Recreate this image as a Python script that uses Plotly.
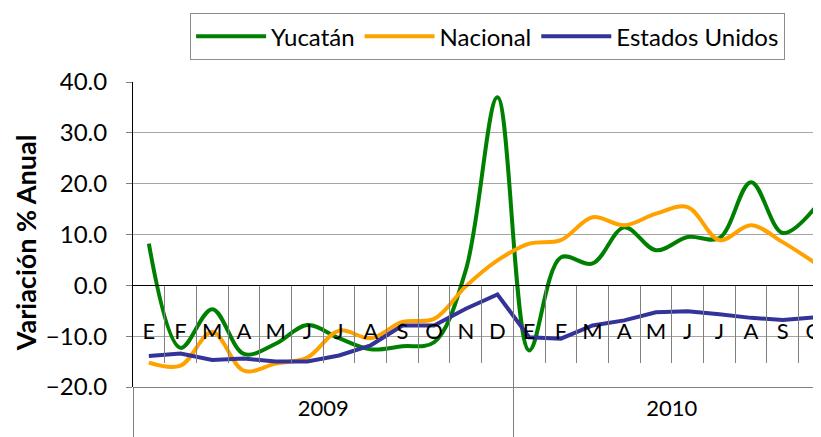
import plotly.graph_objects as go

months = ["E", "F", "M", "A", "M", "J", "J", "A", "S", "O", "N", "D",
          "E", "F", "M", "A", "M", "J", "J", "A", "S", "O"]
years = ["2009", "2010"]
months_per_year = [12, 10]

yucatan = [8.2, -12.3, -4.7, -13.5, -11.5, -7.8, -10.4, -12.6, -12.0, -11.2, 3.0, 37.0,
           -12.8, 5.5, 4.3, 11.4, 6.9, 9.5, 9.3, 20.3, 10.3, 15.1]
nacional = [-15.2, -15.8, -9.2, -16.8, -15.4, -14.2, -8.9, -10.4, -7.2, -6.6, -0.2, 4.9,
            8.2, 8.9, 13.4, 11.8, 14.1, 15.4, 8.9, 11.8, 8.5, 4.5]
eeuu = [-13.9, -13.4, -14.7, -14.4, -15.0, -15.0, -13.8, -11.8, -7.9, -7.9, -4.6, -1.8,
        -10.2, -10.5, -7.9, -6.9, -5.3, -5.1, -5.7, -6.4, -6.8, -6.3]

x = list(range(len(months)))
boundaries = [i + 0.5 for i in x[:-1]]
year_break = months_per_year[0] - 0.5
month_dividers = [b for b in boundaries if b != year_break]
year_centers = [(months_per_year[0] - 1) / 2,
                months_per_year[0] + (months_per_year[1] - 1) / 2]

FONT = "Lato"
xr = [-0.5, 21.46]

fig = go.Figure()
fig.add_trace(go.Scatter(x=x, y=yucatan, name="Yucatán", mode="lines",
                         line=dict(color="#008000", width=4, shape="spline", smoothing=1)))
fig.add_trace(go.Scatter(x=x, y=nacional, name="Nacional", mode="lines",
                         line=dict(color="#FFA200", width=4, shape="spline", smoothing=1)))
fig.add_trace(go.Scatter(x=x, y=eeuu, name="Estados Unidos", mode="lines",
                         line=dict(color="#333399", width=4)))
# carriers for the label axes
fig.add_trace(go.Scatter(x=[], y=[], xaxis="x2", yaxis="y", showlegend=False, hoverinfo="skip"))
fig.add_trace(go.Scatter(x=[], y=[], xaxis="x3", yaxis="y", showlegend=False, hoverinfo="skip"))

fig.update_layout(
    width=821, height=437,
    margin=dict(l=125, r=0, t=74, b=58, autoexpand=False),
    paper_bgcolor="white", plot_bgcolor="white",
    font=dict(family=FONT, color="black"),
    showlegend=True,
    legend=dict(orientation="h", x=0.082, xanchor="left", y=1.226, yanchor="top",
                bordercolor="#8c8c8c", borderwidth=1, bgcolor="white",
                font=dict(size=24, family=FONT), itemwidth=70),
    yaxis=dict(range=[-20, 40], dtick=10, tickformat=".1f", domain=[0, 1],
               automargin=False,
               showgrid=True, gridcolor="#a6a6a6", gridwidth=1,
               zeroline=True, zerolinecolor="black", zerolinewidth=1,
               showline=True, linecolor="black", linewidth=1,
               ticks="outside", ticklen=6, tickcolor="#808080",
               tickfont=dict(size=24, family=FONT),
               ticklabelstandoff=14),
    xaxis=dict(range=xr, anchor="free", position=1/3, automargin=False,
               showgrid=False, zeroline=False, showline=True, linecolor="black",
               tickmode="array", tickvals=month_dividers, ticks="outside",
               ticklen=77, tickcolor="#808080", showticklabels=False,
               minor=dict(tickmode="array", tickvals=[year_break], ticks="outside",
                          ticklen=152, tickcolor="#808080", showgrid=False)),
    xaxis2=dict(range=xr, overlaying="x", anchor="free", position=0.233, automargin=False,
                showgrid=False, zeroline=False, showline=False, ticks="",
                tickmode="array", tickvals=x, ticktext=months,
                tickfont=dict(size=22, family=FONT)),
    xaxis3=dict(range=xr, overlaying="x", anchor="free", position=0, automargin=False,
                showgrid=False, zeroline=False, showline=True, linecolor="#808080",
                ticks="", tickmode="array", tickvals=year_centers, ticktext=years,
                tickfont=dict(size=22, family=FONT), ticklabelstandoff=2,
                minor=dict(tickmode="array", tickvals=[-0.5], ticks="outside",
                           ticklen=50, tickcolor="#808080", showgrid=False)),
    annotations=[dict(text="Variación % Anual", textangle=-90, xref="paper", yref="paper",
                      x=-0.155, y=0.472, xanchor="center", yanchor="middle",
                      showarrow=False,
                      font=dict(size=27, family=FONT, weight="bold", color="black"))],
)

fig.write_html("out.html")
